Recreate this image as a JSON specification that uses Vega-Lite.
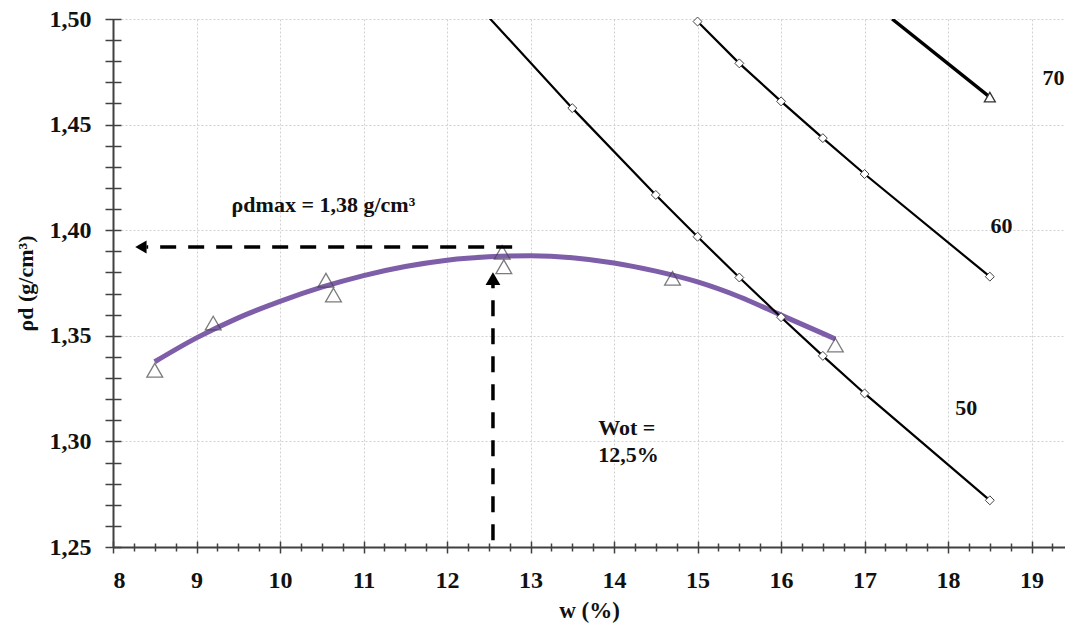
{
  "$schema": "https://vega.github.io/schema/vega-lite/v6.json",
  "width": 952,
  "height": 528,
  "autosize": {"type": "none"},
  "padding": {"left": 113, "top": 19, "right": 0, "bottom": 83},
  "background": "white",
  "config": {"view": {"stroke": null}, "font": "Liberation Serif, Times New Roman, serif"},
  "datasets": {
    "curve": [
      {"w": 8.5, "rho": 1.3377}, {"w": 9, "rho": 1.349}, {"w": 9.5, "rho": 1.3585}, {"w": 10, "rho": 1.3663},
      {"w": 10.5, "rho": 1.373}, {"w": 11, "rho": 1.3785}, {"w": 11.5, "rho": 1.3828}, {"w": 12, "rho": 1.3858},
      {"w": 12.5, "rho": 1.3874}, {"w": 13, "rho": 1.3879}, {"w": 13.5, "rho": 1.387}, {"w": 14, "rho": 1.3845},
      {"w": 14.5, "rho": 1.3806}, {"w": 15, "rho": 1.3755}, {"w": 15.5, "rho": 1.3685}, {"w": 16, "rho": 1.3598},
      {"w": 16.65, "rho": 1.3485}
    ],
    "proctor": [
      {"w": 8.5, "rho": 1.3337}, {"w": 9.2, "rho": 1.356}, {"w": 10.55, "rho": 1.3763}, {"w": 10.64, "rho": 1.3693},
      {"w": 12.66, "rho": 1.3895}, {"w": 12.68, "rho": 1.3827}, {"w": 14.7, "rho": 1.3772}, {"w": 16.65, "rho": 1.3456}
    ],
    "sat": [
      {"series": "50", "w": 12.5, "rho": 1.5008}, {"series": "50", "w": 13.5, "rho": 1.4578}, {"series": "50", "w": 14.5, "rho": 1.4167},
      {"series": "50", "w": 15, "rho": 1.3969}, {"series": "50", "w": 15.5, "rho": 1.3776}, {"series": "50", "w": 16, "rho": 1.3588},
      {"series": "50", "w": 16.5, "rho": 1.3405}, {"series": "50", "w": 17, "rho": 1.3227}, {"series": "50", "w": 18.5, "rho": 1.2721},
      {"series": "60", "w": 15, "rho": 1.4988}, {"series": "60", "w": 15.5, "rho": 1.479}, {"series": "60", "w": 16, "rho": 1.461},
      {"series": "60", "w": 16.5, "rho": 1.4436}, {"series": "60", "w": 17, "rho": 1.4266}, {"series": "60", "w": 18.5, "rho": 1.378}
    ],
    "satMarks": [
      {"w": 13.5, "rho": 1.4578}, {"w": 14.5, "rho": 1.4167}, {"w": 15, "rho": 1.3969}, {"w": 15.5, "rho": 1.3776},
      {"w": 16, "rho": 1.3588}, {"w": 16.5, "rho": 1.3405}, {"w": 17, "rho": 1.3227}, {"w": 18.5, "rho": 1.2721},
      {"w": 15, "rho": 1.4988}, {"w": 15.5, "rho": 1.479}, {"w": 16, "rho": 1.461}, {"w": 16.5, "rho": 1.4436},
      {"w": 17, "rho": 1.4266}, {"w": 18.5, "rho": 1.378}
    ],
    "sat70": [{"w": 17.33, "rho": 1.5}, {"w": 18.5, "rho": 1.463}],
    "sat70end": [{"w": 18.5, "rho": 1.463}],
    "guides": [
      {"w": 12.78, "rho": 1.392, "w2": 8.4, "rho2": 1.392},
      {"w": 12.55, "rho": 1.2532, "w2": 12.55, "rho2": 1.376}
    ],
    "arrowLeft": [{"w": 8.334, "rho": 1.392}],
    "arrowUp": [{"w": 12.55, "rho": 1.3771}],
    "labels": [
      {"w": 9.42, "rho": 1.4085, "label": "ρdmax = 1,38 g/cm³"},
      {"w": 13.81, "rho": 1.3029, "label": "Wot ="},
      {"w": 13.81, "rho": 1.2901, "label": "12,5%"},
      {"w": 18.087, "rho": 1.3124, "label": "50"},
      {"w": 18.507, "rho": 1.3985, "label": "60"},
      {"w": 19.13, "rho": 1.4686, "label": "70"}
    ]
  },
  "resolve": {"axis": {"x": "independent", "y": "independent"}},
  "layer": [
    {
      "data": {"name": "curve"},
      "mark": {"type": "line", "color": "#7e5ea8", "strokeWidth": 5, "interpolate": "monotone"},
      "encoding": {
        "x": {"field": "w", "type": "quantitative", "scale": {"domain": [8, 19.4], "nice": false, "zero": false},
          "axis": {"orient": "bottom", "values": [8, 9, 10, 11, 12, 13, 14, 15, 16, 17, 18, 19], "format": "d",
            "grid": true, "gridColor": "#d0d0d0", "gridDash": [2, 2], "gridWidth": 1,
            "ticks": false, "domainColor": "#404040", "domainWidth": 2,
            "labelFont": "Liberation Serif, Times New Roman, serif", "labelFontWeight": "bold", "labelFontSize": 24, "labelColor": "#111111", "labelPadding": 21,
            "title": "w  (%)", "titleFont": "Liberation Serif, Times New Roman, serif", "titleFontWeight": "bold", "titleFontSize": 23, "titleColor": "#111111", "titlePadding": 7}},
        "y": {"field": "rho", "type": "quantitative", "scale": {"domain": [1.25, 1.5], "nice": false, "zero": false},
          "axis": {"orient": "left", "values": [1.25, 1.3, 1.35, 1.4, 1.45, 1.5],
            "labelExpr": "replace(format(datum.value, '.2f'), '.', ',')",
            "grid": true, "gridColor": "#d0d0d0", "gridDash": [2, 2], "gridWidth": 1,
            "ticks": false, "domainColor": "#404040", "domainWidth": 2,
            "labelFont": "Liberation Serif, Times New Roman, serif", "labelFontWeight": "bold", "labelFontSize": 24, "labelColor": "#111111", "labelPadding": 22,
            "title": "ρd  (g/cm³)", "titleFont": "Liberation Serif, Times New Roman, serif", "titleFontWeight": "bold", "titleFontSize": 22, "titleColor": "#111111", "titlePadding": 12}}
      }
    },
    {
      "data": {"name": "proctor"},
      "mark": {"type": "point", "shape": "triangle-up", "size": 250, "filled": false, "stroke": "#444444", "strokeWidth": 1.3},
      "encoding": {
        "x": {"field": "w", "type": "quantitative", "scale": {"domain": [8, 19.4], "nice": false, "zero": false},
          "axis": {"orient": "bottom", "values": [8, 9, 10, 11, 12, 13, 14, 15, 16, 17, 18, 19], "offset": -6, "tickSize": 12,
            "tickColor": "#404040", "tickWidth": 1.5, "domain": false, "labels": false, "grid": false, "title": null}},
        "y": {"field": "rho", "type": "quantitative", "scale": {"domain": [1.25, 1.5], "nice": false, "zero": false},
          "axis": {"orient": "left", "values": [1.25, 1.26, 1.27, 1.28, 1.29, 1.3, 1.31, 1.32, 1.33, 1.34, 1.35, 1.36, 1.37, 1.38, 1.39, 1.4, 1.41, 1.42, 1.43, 1.44, 1.45, 1.46, 1.47, 1.48, 1.49, 1.5],
            "offset": -8, "tickSize": 16, "tickColor": "#404040", "tickWidth": 1.5, "domain": false, "labels": false, "grid": false, "title": null}}
      }
    },
    {
      "data": {"name": "sat"},
      "mark": {"type": "line", "color": "#000000", "strokeWidth": 2.2, "clip": true},
      "encoding": {
        "x": {"field": "w", "type": "quantitative", "scale": {"domain": [8, 19.4], "nice": false, "zero": false},
          "axis": {"orient": "bottom", "values": [8.25, 8.5, 8.75, 9.25, 9.5, 9.75, 10.25, 10.5, 10.75, 11.25, 11.5, 11.75, 12.25, 12.5, 12.75, 13.25, 13.5, 13.75, 14.25, 14.5, 14.75, 15.25, 15.5, 15.75, 16.25, 16.5, 16.75, 17.25, 17.5, 17.75, 18.25, 18.5, 18.75, 19.25],
            "offset": -4, "tickSize": 8, "tickColor": "#404040", "tickWidth": 1.5, "domain": false, "labels": false, "grid": false, "title": null}},
        "y": {"field": "rho", "type": "quantitative", "scale": {"domain": [1.25, 1.5], "nice": false, "zero": false}, "axis": null},
        "detail": {"field": "series", "type": "nominal"}
      }
    },
    {
      "data": {"name": "sat70"},
      "mark": {"type": "line", "color": "#000000", "strokeWidth": 3.4, "clip": true},
      "encoding": {
        "x": {"field": "w", "type": "quantitative", "scale": {"domain": [8, 19.4], "nice": false, "zero": false}, "axis": null},
        "y": {"field": "rho", "type": "quantitative", "scale": {"domain": [1.25, 1.5], "nice": false, "zero": false}, "axis": null}
      }
    },
    {
      "data": {"name": "satMarks"},
      "mark": {"type": "point", "shape": "diamond", "size": 80, "filled": true, "fill": "#ffffff", "stroke": "#444444", "strokeWidth": 1, "opacity": 1},
      "encoding": {
        "x": {"field": "w", "type": "quantitative", "scale": {"domain": [8, 19.4], "nice": false, "zero": false}, "axis": null},
        "y": {"field": "rho", "type": "quantitative", "scale": {"domain": [1.25, 1.5], "nice": false, "zero": false}, "axis": null}
      }
    },
    {
      "data": {"name": "sat70end"},
      "mark": {"type": "point", "shape": "triangle-up", "size": 120, "filled": true, "fill": "#ffffff", "stroke": "#333333", "strokeWidth": 1.3, "opacity": 1},
      "encoding": {
        "x": {"field": "w", "type": "quantitative", "scale": {"domain": [8, 19.4], "nice": false, "zero": false}, "axis": null},
        "y": {"field": "rho", "type": "quantitative", "scale": {"domain": [1.25, 1.5], "nice": false, "zero": false}, "axis": null}
      }
    },
    {
      "data": {"name": "guides"},
      "mark": {"type": "rule", "color": "#000000", "strokeWidth": 3.5, "strokeDash": [16, 12]},
      "encoding": {
        "x": {"field": "w", "type": "quantitative", "scale": {"domain": [8, 19.4], "nice": false, "zero": false}, "axis": null},
        "x2": {"field": "w2"},
        "y": {"field": "rho", "type": "quantitative", "scale": {"domain": [1.25, 1.5], "nice": false, "zero": false}, "axis": null},
        "y2": {"field": "rho2"}
      }
    },
    {
      "data": {"name": "arrowLeft"},
      "mark": {"type": "point", "shape": "triangle-left", "size": 170, "filled": true, "color": "#000000", "opacity": 1},
      "encoding": {
        "x": {"field": "w", "type": "quantitative", "scale": {"domain": [8, 19.4], "nice": false, "zero": false}, "axis": null},
        "y": {"field": "rho", "type": "quantitative", "scale": {"domain": [1.25, 1.5], "nice": false, "zero": false}, "axis": null}
      }
    },
    {
      "data": {"name": "arrowUp"},
      "mark": {"type": "point", "shape": "triangle-up", "size": 220, "filled": true, "color": "#000000", "opacity": 1},
      "encoding": {
        "x": {"field": "w", "type": "quantitative", "scale": {"domain": [8, 19.4], "nice": false, "zero": false}, "axis": null},
        "y": {"field": "rho", "type": "quantitative", "scale": {"domain": [1.25, 1.5], "nice": false, "zero": false}, "axis": null}
      }
    },
    {
      "data": {"name": "labels"},
      "mark": {"type": "text", "align": "left", "baseline": "alphabetic", "font": "Liberation Serif, Times New Roman, serif", "fontWeight": "bold", "fontSize": 22, "color": "#111111"},
      "encoding": {
        "x": {"field": "w", "type": "quantitative", "scale": {"domain": [8, 19.4], "nice": false, "zero": false}, "axis": null},
        "y": {"field": "rho", "type": "quantitative", "scale": {"domain": [1.25, 1.5], "nice": false, "zero": false}, "axis": null},
        "text": {"field": "label"}
      }
    }
  ]
}
